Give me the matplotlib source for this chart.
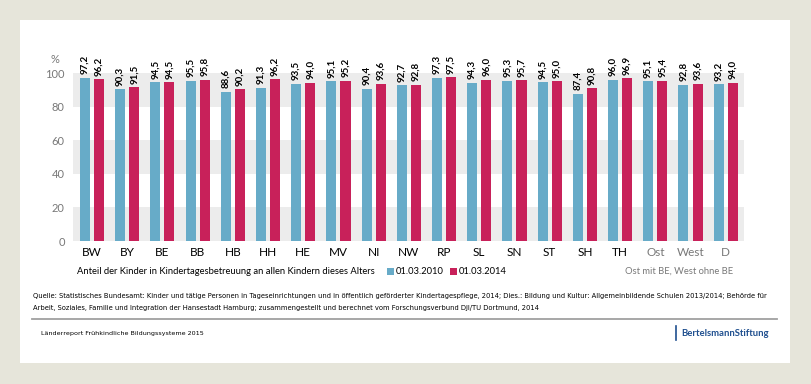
import numpy as np
import matplotlib
matplotlib.use("Agg")
import matplotlib.pyplot as plt
from matplotlib.patches import Rectangle

# Data
laender = ['BW', 'BY', 'BE', 'BB', 'HB', 'HH', 'HE', 'MV', 'NI', 'NW',
           'RP', 'SL', 'SN', 'ST', 'SH', 'TH', 'Ost', 'West', 'D']
werte_2010 = [97.2, 90.3, 94.5, 95.5, 88.6, 91.3, 93.5, 95.1, 90.4, 92.7,
              97.3, 94.3, 95.3, 94.5, 87.4, 96.0, 95.1, 92.8, 93.2]
werte_2014 = [96.2, 91.5, 94.5, 95.8, 90.2, 96.2, 94.0, 95.2, 93.6, 92.8,
              97.5, 96.0, 95.7, 95.0, 90.8, 96.9, 95.4, 93.6, 94.0]
serien = ['01.03.2010', '01.03.2014']
y_ticks = [0, 20, 40, 60, 80, 100]

blau = '#67abc8'
rot = '#c8215a'
grau = '#787878'
schmal = ['Liberation Sans Narrow', 'DejaVu Sans']
plt.rcParams['font.family'] = ['Lato', 'DejaVu Sans']

fig = plt.figure(figsize=(8.11, 3.84), dpi=100)
fig.patch.set_facecolor('#e6e5da')
# weisses Feld
fig.patches.append(Rectangle((20 / 811, 1 - 363 / 384), 770 / 811, 343 / 384,
                             transform=fig.transFigure, facecolor='white',
                             edgecolor='none', zorder=-5))

ax = fig.add_axes([73 / 811, 1 - 241 / 384, 671 / 811, 168 / 384])
ax.set_zorder(2)
ax.set_facecolor('none')
x = np.arange(len(laender))
bw = 0.285
ax.bar(x - 0.2, werte_2010, width=bw, color=blau, zorder=2)
ax.bar(x + 0.2, werte_2014, width=bw, color=rot, zorder=2)

for lo in (0, 40, 80):
    ax.axhspan(lo, lo + 20, color='#ececec', zorder=0, lw=0)

def fmt(v):
    return f'{v:.1f}'.replace('.', ',')

for xi, a, b in zip(x, werte_2010, werte_2014):
    ax.text(xi - 0.2, a + 2.2, fmt(a), rotation=90, ha='center', va='bottom',
            fontsize=7, fontweight='bold', clip_on=False)
    ax.text(xi + 0.2, b + 2.2, fmt(b), rotation=90, ha='center', va='bottom',
            fontsize=7, fontweight='bold', clip_on=False)

ax.set_xlim(-0.54, len(laender) - 0.48)
ax.set_ylim(0, 100)
ax.set_yticks(y_ticks)
ax.set_yticklabels([str(t) for t in y_ticks], color=grau, fontsize=8)
ax.set_xticks(x)
ax.set_xticklabels(laender, fontsize=8.5)
for lbl in ax.get_xticklabels()[-3:]:
    lbl.set_color(grau)
ax.tick_params(length=0, pad=4)
ax.tick_params(axis='y', pad=6)
for s in ax.spines.values():
    s.set_visible(False)
ax.text(-0.02, 1.05, '%', transform=ax.transAxes, ha='right', va='bottom',
        color=grau, fontsize=8)

# Legendenzeile
ly = 1 - 271 / 384
fig.text(77 / 811, ly, 'Anteil der Kinder in Kindertagesbetreuung an allen Kindern dieses Alters',
         fontsize=6.75, va='center')
for xs, farbe, name in [(387, blau, serien[0]), (450, rot, serien[1])]:
    fig.patches.append(Rectangle((xs / 811, ly - 3.5 / 384), 7 / 811, 7 / 384,
                                 transform=fig.transFigure, facecolor=farbe,
                                 edgecolor='none'))
    fig.text((xs + 9) / 811, ly, name, fontsize=6.75, va='center')
fig.text(733 / 811, ly, 'Ost mit BE, West ohne BE', fontsize=6.75, va='center',
         ha='right', color=grau)

# Quelle
quelle_1 = ('Quelle: Statistisches Bundesamt: Kinder und tätige Personen in Tageseinrichtungen und in öffentlich '
            'geförderter Kindertagespflege, 2014; Dies.: Bildung und Kultur: Allgemeinbildende Schulen 2013/2014; '
            'Behörde für')
quelle_2 = ('Arbeit, Soziales, Familie und Integration der Hansestadt Hamburg; zusammengestellt und '
            'berechnet vom Forschungsverbund DJI/TU Dortmund, 2014')
fig.text(33 / 811, 1 - 296 / 384, quelle_1, fontsize=4.87, va='center', family=schmal)
fig.text(33 / 811, 1 - 308 / 384, quelle_2, fontsize=4.87, va='center', family=schmal)

fig.add_artist(plt.Line2D([32 / 811, 777 / 811], [1 - 319 / 384] * 2,
                          transform=fig.transFigure, color='#a0a0a0', lw=1.3))

fig.text(41 / 811, 1 - 333 / 384, 'Länderreport Frühkindliche Bildungssysteme 2015',
         fontsize=4.6, va='center', family=schmal)
fig.add_artist(plt.Line2D([676 / 811] * 2, [1 - 326 / 384, 1 - 340 / 384],
                          transform=fig.transFigure, color='#1f4f8f', lw=1.2))
fig.text(681 / 811, 1 - 333 / 384, 'BertelsmannStiftung', fontsize=6.8, va='center',
         color='#1f4f8f', fontweight='bold')

fig.savefig('out.png', dpi=100, facecolor=fig.get_facecolor())
